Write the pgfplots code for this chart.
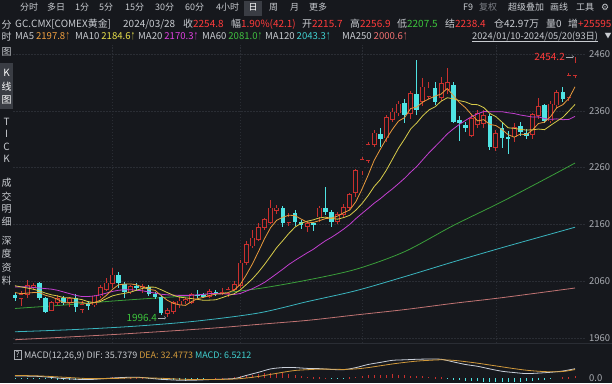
\documentclass[border=0pt]{standalone}
\usepackage{pgfplots}
\pgfplotsset{compat=1.18}
\usepackage{pgfplotstable}
\usepackage{graphicx}
\usepackage{fontspec}
\setmainfont{Noto Sans CJK SC}
\newfontfamily\symfont{DejaVu Sans}
\usetikzlibrary{arrows.meta}
\newcommand\fs[1]{\fontsize{#1}{#1}\selectfont}
\newcommand\up{\hspace{0.3bp}\scalebox{0.45}[0.9]{↑}}

\definecolor{bgc}{HTML}{16181D}
\definecolor{boxc}{HTML}{3A3D44}
\definecolor{txt}{HTML}{C8CBD0}
\definecolor{dimt}{HTML}{7E8188}
\definecolor{tickc}{HTML}{A9ACB2}
\definecolor{redT}{HTML}{FF3B3B}
\definecolor{greenT}{HTML}{3CC43C}
\definecolor{gridc}{HTML}{2A2D34}
\definecolor{candR}{HTML}{C8302E}
\definecolor{candC}{HTML}{4FE3E3}
\definecolor{ma5c}{HTML}{E89A3C}
\definecolor{ma10c}{HTML}{D8CC4A}
\definecolor{ma20c}{HTML}{C23FCF}
\definecolor{ma60c}{HTML}{3A9E3A}
\definecolor{ma120c}{HTML}{3AB4BE}
\definecolor{ma250c}{HTML}{C07373}
\definecolor{v5}{HTML}{F0A040}
\definecolor{v10}{HTML}{E8E04A}
\definecolor{v20}{HTML}{E040E0}
\definecolor{v60}{HTML}{40C040}
\definecolor{v120}{HTML}{40D0D0}
\definecolor{v250}{HTML}{F07070}
\definecolor{difc}{HTML}{C9CFD9}
\definecolor{deac}{HTML}{D29A3C}

\pgfplotstableread{
i O H L C
0 2036 2040 2026 2030
1 2029 2042 2016 2036
2 2036 2062 2030 2052
3 2049 2057 2044 2052
4 2057 2059 2027 2030
5 2030 2032 2004 2006
6 2009 2025 2007 2022
7 2022 2036 2018 2030
8 2030 2034 2018 2022
9 2022 2032 2014 2029
10 2030 2037 2005 2014
11 2010 2025 2004 2019
12 2021 2025 2010 2016
13 2018 2036 2014 2034
14 2034 2053 2030 2049
15 2046 2066 2042 2057
16 2056 2084 2048 2071
17 2071 2076 2048 2057
18 2055 2058 2030 2041
19 2041 2054 2038 2050
20 2052 2056 2043 2049
21 2048 2055 2040 2050
22 2050 2053 2034 2038
23 2037 2041 2028 2033
24 2033 2036 2001 2004
25 2003 2012 1996.4 2008
26 2006 2025 2002 2022
27 2018 2032 2012 2025
28 2025 2031 2020 2028
29 2023 2040 2020 2037
30 2036 2044 2030 2035
31 2036 2040 2030 2033
32 2033 2046 2030 2042
33 2041 2044 2034 2039
34 2038 2048 2035 2040
35 2038 2050 2033 2046
36 2046 2060 2042 2054
37 2052 2097 2048 2092
38 2093 2130 2088 2124
39 2122 2150 2118 2136
40 2134 2162 2130 2155
41 2155 2172 2150 2168
42 2164 2203 2160 2189
43 2185 2195 2178 2189
44 2189 2192 2155 2162
45 2163 2180 2158 2173
46 2180 2185 2158 2164
47 2164 2167 2152 2159
48 2156 2166 2147 2161
49 2162 2165 2148 2160
50 2173 2192 2165 2189
51 2189 2226 2176 2182
52 2182 2186 2155 2164
53 2165 2182 2160 2178
54 2178 2196 2172 2190
55 2190 2215 2186 2213
56 2215.7 2256.9 2207.5 2254.8
57 2254 2278 2247 2274
58 2272 2305 2268 2300
59 2300 2326 2296 2321
60 2320 2330 2297 2310
61 2312 2352 2305 2348
62 2345 2365 2340 2358
63 2356 2378 2350 2372
64 2373 2380 2339 2352
65 2355 2395 2345 2390
66 2390 2449 2353 2361
67 2376 2418 2368 2402
68 2385 2410 2380 2400
69 2400 2410 2370 2376
70 2384 2420 2378 2408
71 2398 2436 2390 2410
72 2405 2410 2338 2341
73 2344 2350 2307 2338
74 2335 2340 2322 2330
75 2317 2352 2313 2347
76 2336 2362 2330 2355
77 2338 2362 2330 2352
78 2350 2355 2291 2296
79 2296 2326 2290 2320
80 2330 2338 2294 2312
81 2314 2325 2284 2310
82 2314 2338 2305 2330
83 2333 2340 2316 2322
84 2320 2328 2310 2316
85 2318 2356 2310 2353
86 2352 2382 2345 2367
87 2370 2372 2338 2342
88 2342 2378 2338 2372
89 2370 2396 2365 2392
90 2393 2402 2375 2381
91 2383 2426 2378 2422
92 2422 2454.2 2418 2444
}\kdata

\pgfplotstableread{
i ma5 ma10 ma20
0 2040 2052 2050
1 2038 2050 2050
2 2039 2048 2050
3 2040 2046 2049
4 2040.0 2043 2048
5 2035.2 2039 2047
6 2032.4 2036 2046
7 2028.0 2034 2044
8 2022.0 2031 2041
9 2021.8 2030.9 2038
10 2023.4 2029.3 2035
11 2022.8 2027.6 2033
12 2020.0 2024.0 2033
13 2022.4 2022.2 2034
14 2026.4 2024.1 2036
15 2035.0 2029.2 2039
16 2045.4 2034.1 2042
17 2053.6 2036.8 2044
18 2055.0 2038.7 2045
19 2055.2 2040.8 2045
20 2053.6 2044.3 2044
21 2049.4 2047.4 2043
22 2045.6 2049.6 2041
23 2044.0 2049.5 2039
24 2034.8 2045.0 2037
25 2026.6 2040.1 2036
26 2021.0 2035.2 2035.5
27 2018.4 2032.0 2035
28 2017.4 2030.7 2035
29 2024.0 2029.4 2035.1
30 2029.4 2028.0 2036.2
31 2031.6 2026.3 2036.9
32 2035.0 2026.7 2038.2
33 2037.2 2027.3 2038.4
34 2037.8 2030.9 2038.0
35 2040.0 2034.7 2037.4
36 2044.2 2037.9 2036.6
37 2054.2 2044.6 2038.3
38 2071.2 2054.2 2042.5
39 2090.4 2064.1 2046.8
40 2112.2 2076.1 2052.1
41 2135.0 2089.6 2058.0
42 2154.4 2104.3 2065.5
43 2167.4 2119.3 2073.3
44 2172.6 2131.5 2081.2
45 2176.2 2144.2 2089.5
46 2175.4 2155.2 2096.6
47 2169.4 2161.9 2103.3
48 2163.8 2165.6 2109.9
49 2163.4 2168.0 2116.1
50 2166.6 2171.4 2123.8
51 2170.2 2172.8 2131.2
52 2171.2 2170.3 2137.3
53 2174.6 2169.2 2144.3
54 2180.6 2172.0 2151.8
55 2185.4 2176.0 2160.1
56 2200.0 2185.1 2170.2
57 2222.0 2196.6 2179.3
58 2246.4 2210.5 2188.1
59 2272.6 2226.6 2197.3
60 2292.0 2238.7 2205.1
61 2310.6 2255.3 2214.1
62 2327.4 2274.7 2222.5
63 2341.8 2294.1 2231.7
64 2348.0 2310.3 2241.2
65 2364.0 2328.0 2252.0
66 2366.6 2338.6 2261.9
67 2375.4 2351.4 2274.0
68 2381.0 2361.4 2286.0
69 2385.8 2366.9 2296.8
70 2389.4 2376.7 2307.7
71 2399.2 2382.9 2319.1
72 2387.0 2381.2 2328.0
73 2374.6 2377.8 2336.0
74 2365.4 2375.6 2343.0
75 2353.2 2371.3 2349.7
76 2342.2 2370.7 2354.7
77 2344.4 2365.7 2358.6
78 2336.0 2355.3 2358.4
79 2334.0 2349.7 2358.3
80 2327.0 2340.1 2358.4
81 2318.0 2330.1 2356.5
82 2313.6 2329.0 2355.1
83 2318.8 2327.4 2352.6
84 2318.0 2326.0 2350.8
85 2326.2 2326.6 2349.0
86 2337.6 2327.8 2349.3
87 2340.0 2326.8 2346.3
88 2350.0 2334.4 2344.9
89 2365.2 2341.6 2345.7
90 2370.8 2348.5 2344.3
91 2381.8 2359.7 2344.9
92 2402.2 2371.1 2350.1
}\madata

\pgfplotstableread{
i h
0 -2
1 -2
2 -2
3 -2
4 -2
5 -2.8
6 -3.5
7 -4.2
8 -5
9 -4.8
10 -4.5
11 -4.2
12 -4
13 -2.5
14 -1
15 0.5
16 2
17 2
18 2
19 2
20 2
21 0.5
22 -1
23 -2.5
24 -4
25 -4
26 -4
27 -4
28 -4
29 -3
30 -2
31 -1
32 0
33 0.5
34 1
35 1.5
36 2
37 6
38 10
39 13
40 16
41 18.5
42 21
43 19.5
44 18
45 14.5
46 11
47 8
48 5
49 3.5
50 2
51 0.5
52 -1
53 -1
54 -1
55 2
56 5
57 8.5
58 12
59 12.5
60 13
61 13.5
62 14
63 12
64 10
65 8.5
66 7
67 6
68 5
69 3.5
70 2
71 -2
72 -6
73 -8.5
74 -11
75 -11.5
76 -12
77 -13.5
78 -15
79 -16
80 -17
81 -16
82 -15
83 -14
84 -13
85 -10
86 -7
87 -4.5
88 -2
89 0
90 2
91 2.5
92 6.5
}\histdata

\pgfplotsset{
  ebar/.style 2 args={draw=none, mark=none, error bars/y dir=both, error bars/y explicit, error bars/error mark=none,
    error bars/error bar style={draw=#1, line width=#2, solid}},
}

\begin{document}
\begin{tikzpicture}[x=1bp,y=1bp]
\useasboundingbox (0,0) rectangle (612,383);
\fill[bgc] (0,0) rectangle (612,383);
% highlight boxes
\fill[boxc] (244,367) rectangle (262,382);
\fill[boxc] (0,274) rectangle (12.5,320);
\draw[gridc, line width=0.6bp] (13,39.5) -- (612,39.5);

% top menu row
\begin{scope}[every node/.style={anchor=base west, inner sep=0pt, font=\fs{9}, text=txt}]
\node at (20,372.5) {分时};
\node at (47,372.5) {多日};
\node at (75,372.5) {1分};
\node at (99,372.5) {5分};
\node at (125,372.5) {15分};
\node at (155,372.5) {30分};
\node at (185,372.5) {60分};
\node at (216,372.5) {4小时};
\node[text=white] at (248.5,372.5) {日};
\node at (269,372.5) {周};
\node at (290,372.5) {月};
\node at (309,372.5) {更多};
\node at (463,372.5) {F9};
\node[text=dimt] at (479,372.5) {复权};
\node at (508,372.5) {超级叠加};
\node at (550,372.5) {画线};
\node at (576,372.5) {工具};
\node at (601,372.5) {\symfont ⚙};
\end{scope}

% info row
\begin{scope}[every node/.style={anchor=base west, inner sep=0pt, font=\fs{10}, text=txt}]
\node at (15,355.5) {GC.CMX[COMEX黄金]};
\node at (123,355.5) {2024/03/28};
\node at (183,355.5) {收\textcolor{redT}{2254.8}};
\node at (231,355.5) {幅\textcolor{redT}{1.90\%(42.1)}};
\node at (302,355.5) {开\textcolor{redT}{2215.7}};
\node at (350,355.5) {高\textcolor{redT}{2256.9}};
\node at (397,355.5) {低\textcolor{greenT}{2207.5}};
\node at (445,355.5) {结\textcolor{redT}{2238.4}};
\node at (494,355.5) {仓42.97万};
\node at (546,355.5) {量0};
\node at (568,355.5) {增\textcolor{redT}{+25595}};
\end{scope}
% MA row
\begin{scope}[every node/.style={anchor=base west, inner sep=0pt, font=\fs{9.6}, text=txt}]
\node at (15,344) {MA5\hspace{2bp}\textcolor{v5}{2197.8\up}};
\node at (75,344) {MA10\hspace{2bp}\textcolor{v10}{2184.6\up}};
\node at (138,344) {MA20\hspace{2bp}\textcolor{v20}{2170.3\up}};
\node at (202,344) {MA60\hspace{2bp}\textcolor{v60}{2081.0\up}};
\node at (265,344) {MA120\hspace{2bp}\textcolor{v120}{2043.3\up}};
\node at (342,344) {MA250\hspace{2bp}\textcolor{v250}{2000.6\up}};
\node[font=\fs{9.3}] (dr) at (472,344) {2024/01/10-2024/05/20(93日)};
\node[font=\fs{7}] at (604.5,344.5) {▼};
\end{scope}
\draw[txt, line width=0.5bp] (472,341.8) -- (dr.east |- 0,341.8);

% left sidebar
\begin{scope}[every node/.style={anchor=center, inner sep=0pt, font=\fs{10}, text=txt}]
\node at (6.5,358) {分};
\node at (6.5,346) {时};
\node at (6.5,331) {图};
\node[text=white] at (6.5,310) {K};
\node[text=white] at (6.5,296) {线};
\node[text=white] at (6.5,283) {图};
\node at (6.5,261) {T};
\node at (6.5,249) {I};
\node at (6.5,236) {C};
\node at (6.5,224) {K};
\node at (6.5,200) {成};
\node at (6.5,186) {交};
\node at (6.5,174) {明};
\node at (6.5,161) {细};
\node at (6.5,142) {深};
\node at (6.5,129) {度};
\node at (6.5,115) {资};
\node at (6.5,102) {料};
\end{scope}

% MACD header
\draw[tickc, line width=0.5bp] (14,24) rectangle (21,33);
\node[anchor=base, inner sep=0pt, font=\fs{8}, text=txt] at (17.5,25.5) {?};
\node[anchor=base west, inner sep=0pt, font=\fs{9}, text=txt] at (24,25) {MACD(12,26,9) DIF: 35.7379 \textcolor{deac}{DEA: 32.4773} \textcolor{v120}{MACD: 6.5212}};

% ---------- main candlestick panel ----------
\begin{axis}[
  at={(13bp,40bp)}, anchor=south west,
  scale only axis, width=572bp, height=298bp,
  xmin=-0.3286, xmax=93.64, ymin=1951.2, ymax=2475.8,
  axis line style={draw=none}, tick style={draw=none},
  xtick={16,37,57,79}, xticklabels={},
  ytick={1960,2060,2160,2260,2360,2460},
  yticklabel pos=right,
  yticklabel style={font=\fs{9.5}, text=tickc, anchor=west, inner sep=0pt, xshift=4bp},
  /pgf/number format/1000 sep={},
  /pgf/number format/assume math mode=true,
  xmajorgrids, ymajorgrids,
  major grid style={draw=gridc, line width=0.5bp, dash pattern=on 1.5bp off 1.5bp},
]
% long moving averages
\addplot[smooth, no marks, ma250c, line width=0.8bp] coordinates {(0,1957) (16,1966) (32,1977) (40,1984) (48,1991) (56,2000.6) (64,2010) (72,2021) (80,2031) (92,2048)};
\addplot[smooth, no marks, ma120c, line width=0.8bp] coordinates {(0,1971) (10,1975) (20,1981) (30,1990) (40,2004) (48,2024) (56,2043.3) (64,2068) (72,2094) (80,2119) (88,2143) (92,2155)};
\addplot[smooth, no marks, ma60c, line width=0.8bp] coordinates {(0,2012) (8,2018) (16,2025) (24,2031) (32,2037) (40,2047) (48,2062) (56,2081) (64,2112) (72,2158) (80,2200) (88,2245) (92,2268)};
% candle wicks
\addplot[ebar={candR}{0.9bp}, restrict expr to domain={\thisrow{C}-\thisrow{O}}{0:1000}]
  table[x=i, y expr={(\thisrow{H}+\thisrow{L})/2}, y error expr={(\thisrow{H}-\thisrow{L})/2}] {\kdata};
\addplot[ebar={candC}{0.9bp}, restrict expr to domain={\thisrow{C}-\thisrow{O}}{-1000:-0.0001}]
  table[x=i, y expr={(\thisrow{H}+\thisrow{L})/2}, y error expr={(\thisrow{H}-\thisrow{L})/2}] {\kdata};
% falling bodies (filled)
\addplot[ebar={candC}{4.6bp}, restrict expr to domain={\thisrow{C}-\thisrow{O}}{-1000:-0.0001}]
  table[x=i, y expr={(\thisrow{O}+\thisrow{C})/2}, y error expr={max(0.7,(\thisrow{O}-\thisrow{C})/2)}] {\kdata};
% rising bodies (hollow)
\addplot[ebar={candR}{4.8bp}, restrict expr to domain={\thisrow{C}-\thisrow{O}}{0:1000}]
  table[x=i, y expr={(\thisrow{O}+\thisrow{C})/2}, y error expr={(\thisrow{C}-\thisrow{O})/2+0.7}] {\kdata};
\addplot[ebar={bgc}{3.2bp}, restrict expr to domain={\thisrow{C}-\thisrow{O}}{0:1000}]
  table[x=i, y expr={(\thisrow{O}+\thisrow{C})/2}, y error expr={max(0,(\thisrow{C}-\thisrow{O})/2-0.7)}] {\kdata};
% short moving averages
\addplot[no marks, ma20c, line width=0.8bp] table[x=i, y=ma20] {\madata};
\addplot[no marks, ma10c, line width=0.8bp] table[x=i, y=ma10] {\madata};
\addplot[no marks, ma5c, line width=0.8bp] table[x=i, y=ma5] {\madata};
% extreme labels
\node[anchor=east, inner sep=0pt, font=\fs{10}, text=redT] at (axis cs:90.35,2455) {2454.2};
\draw[-{To[length=2bp,width=3bp]}, tickc, line width=0.5bp] (axis cs:90.5,2455) -- (axis cs:91.8,2455);
\node[anchor=east, inner sep=0pt, font=\fs{10}, text=greenT] at (axis cs:23.35,1995.5) {1996.4};
\draw[-{To[length=2bp,width=3bp]}, tickc, line width=0.5bp] (axis cs:23.45,1995.5) -- (axis cs:24.8,1995.5);
\end{axis}

% ---------- MACD panel ----------
\begin{axis}[
  at={(13bp,0bp)}, anchor=south west,
  scale only axis, width=572bp, height=38bp,
  xmin=-0.3286, xmax=93.64, ymin=-19.2, ymax=126.9,
  axis line style={draw=none}, tick style={draw=none},
  xtick=\empty, ytick={0}, yticklabels={0.0},
  yticklabel pos=right,
  yticklabel style={font=\fs{9.5}, text=tickc, anchor=west, inner sep=0pt, xshift=4bp},
  /pgf/number format/assume math mode=true,
]
\addplot[ebar={candR}{0.9bp}, restrict expr to domain={\thisrow{h}}{0.0001:1000}]
  table[x=i, y expr={\thisrow{h}/2}, y error expr={\thisrow{h}/2}] {\histdata};
\addplot[ebar={candC}{0.9bp}, restrict expr to domain={\thisrow{h}}{-1000:-0.0001}]
  table[x=i, y expr={\thisrow{h}/2}, y error expr={-\thisrow{h}/2}] {\histdata};
\addplot[smooth, no marks, difc, line width=0.8bp] coordinates {(0,8) (4,6) (8,-2) (12,-6) (16,0) (20,3) (24,-5) (28,-9) (32,-6) (36,-2) (38,10) (40,22) (42,35) (44,40) (46,40) (48,37) (50,36) (52,33) (54,32) (56,40) (58,52) (60,60) (62,68) (64,70) (66,72) (68,73) (70,72) (72,62) (74,52) (76,45) (78,35) (80,26) (82,21) (84,17) (86,19) (88,22) (90,27) (92,35.7)};
\addplot[smooth, no marks, deac, line width=0.8bp] coordinates {(0,10) (4,8) (8,3) (12,-2) (16,-2) (20,1) (24,-1) (28,-5) (32,-6) (36,-4) (38,0) (40,6) (42,14) (44,22) (46,29) (48,32) (50,34) (52,34) (54,33) (56,35) (58,40) (60,47) (62,54) (64,60) (66,65) (68,68) (70,70) (72,68) (74,63) (76,57) (78,50) (80,43) (82,36) (84,30) (86,26) (88,24) (90,25) (92,32.5)};
\end{axis}
\end{tikzpicture}
\end{document}
